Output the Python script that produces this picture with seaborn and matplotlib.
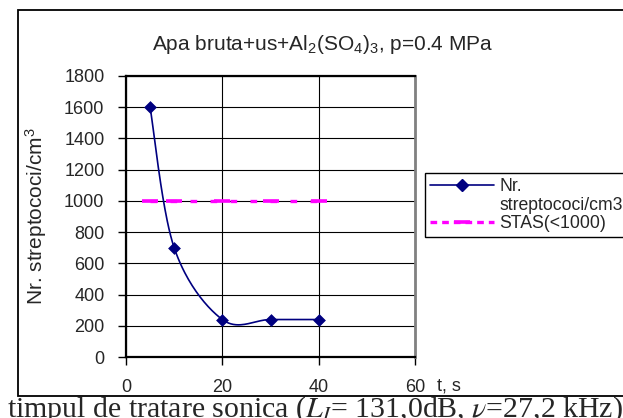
import numpy as np
import pandas as pd
import matplotlib
matplotlib.use("Agg")
import matplotlib.pyplot as plt
import seaborn as sns
from matplotlib.patches import Rectangle
from matplotlib.lines import Line2D

# ---- data ----
time_s = [5, 10, 20, 30, 40]
streptococi = [1600, 700, 240, 240, 240]
stas_limit = [1000, 1000, 1000, 1000, 1000]
x_ticks = [0, 20, 40, 60]
y_ticks = [0, 200, 400, 600, 800, 1000, 1200, 1400, 1600, 1800]
series_labels = ["Nr.", "streptococi/cm3", "STAS(<1000)"]
title_text = "Apa bruta+us+Al$_\\mathregular{2}$(SO$_\\mathregular{4}$)$_\\mathregular{3}$, p=0.4 MPa"
ylabel_text = "Nr. streptococi/cm$^\\mathregular{3}$"
xlabel_text = "t, s"
caption_text = "timpul de tratare sonica ($L_I$= 131,0dB, $\\nu$=27,2 kHz)."


def excel_smooth(x, y, n=40):
    """Excel-style smoothed line (Catmull-Rom Bezier) through the data points."""
    P = np.column_stack([np.asarray(x, float), np.asarray(y, float)])
    out = []
    for i in range(len(P) - 1):
        p0, p3 = P[i], P[i + 1]
        pm = P[i - 1] if i > 0 else P[i]
        pp = P[i + 2] if i + 2 < len(P) else P[i + 1]
        c1 = p0 + (p3 - pm) / 6.0
        c2 = p3 - (pp - p0) / 6.0
        t = np.linspace(0, 1, n)[:, None]
        seg = (1 - t) ** 3 * p0 + 3 * (1 - t) ** 2 * t * c1 + 3 * (1 - t) * t ** 2 * c2 + t ** 3 * p3
        out.append(seg if i == 0 else seg[1:])
    return np.vstack(out)


sns.set_style("white")
plt.rcParams["font.family"] = ["Liberation Sans", "DejaVu Sans"]
plt.rcParams["mathtext.fontset"] = "custom"
plt.rcParams["mathtext.rm"] = "Liberation Sans"
plt.rcParams["mathtext.it"] = "Liberation Sans:italic"

W, H = 623, 418
fig = plt.figure(figsize=(W / 100, H / 100), dpi=100)
ax = fig.add_axes([126 / W, 1 - 357 / H, (415 - 126) / W, (357 - 76) / H])

navy = "#000080"
magenta = "#FF00FF"

smooth = excel_smooth(time_s, streptococi)
df_smooth = pd.DataFrame({"t": smooth[:, 0], "n": smooth[:, 1]})
df_pts = pd.DataFrame({"t": time_s, "n": streptococi, "stas": stas_limit})

sns.lineplot(data=df_pts, x="t", y="stas", ax=ax, color=magenta, lw=2.4,
             linestyle=(0, (2, 4)), marker="_", markersize=11, mew=2.6,
             mec=magenta, zorder=3, estimator=None, sort=False)
sns.lineplot(data=df_smooth, x="t", y="n", ax=ax, color=navy, lw=1.2,
             estimator=None, sort=False, zorder=4)
sns.scatterplot(data=df_pts, x="t", y="n", ax=ax, marker="D", s=36,
                color=navy, edgecolor=navy, linewidth=0.5, zorder=5)

ax.set_xlim(0, 60)
ax.set_ylim(0, 1800)
ax.set_xticks(x_ticks)
ax.set_yticks(y_ticks)
ax.grid(True, color="black", lw=0.8)
ax.set_axisbelow(True)
for side in ["left", "bottom", "top"]:
    ax.spines[side].set_color("black")
    ax.spines[side].set_linewidth(1.6)
ax.spines["right"].set_color("#808080")
ax.spines["right"].set_linewidth(2.0)
ax.tick_params(axis="x", direction="out", length=6, width=1, color="black",
               labelsize=13, pad=10, bottom=True)
ax.tick_params(axis="y", direction="out", length=6, width=1, color="black",
               labelsize=13, pad=9.5, left=True)

ax.set_xlabel(xlabel_text, fontsize=13)
ax.xaxis.set_label_coords((437 - 126) / 289, (357 - 386) / 281)
ax.xaxis.label.set_ha("left")
ax.xaxis.label.set_va("center")

ax.set_ylabel(ylabel_text, fontsize=15)
ax.yaxis.set_label_coords((36 - 126) / 289, (357 - 216) / 281)
ax.yaxis.label.set_va("center")

fig.text(323 / W, 1 - 44 / H, title_text, ha="center", va="center", fontsize=15)

handles = [
    Line2D([], [], color=navy, lw=1.2, marker="D", markersize=6),
    Line2D([], [], color="none"),
    Line2D([], [], color=magenta, lw=2.4, linestyle=(0, (2, 1.5)), marker="_",
           markersize=11, mew=2.6),
]
leg = ax.legend(handles, series_labels, loc="upper left",
                bbox_to_anchor=(425 / W, 1 - 173 / H), bbox_transform=fig.transFigure,
                frameon=True, fancybox=False, framealpha=1, edgecolor="black",
                fontsize=12.7, borderpad=0.3, borderaxespad=0, labelspacing=0.08,
                handlelength=3.6, handletextpad=0.3, numpoints=1)
leg.get_frame().set_linewidth(1.0)

# outer chart frame (white box over the page text)
frame = Rectangle((18 / W, 1 - 396 / H), 1.0, (396 - 10) / H, transform=fig.transFigure,
                  facecolor="white", edgecolor="black", lw=1.3, zorder=-1)
fig.patches.append(frame)

fig.text(7 / W, 1 - 417 / H, caption_text, ha="left", va="baseline",
         fontsize=21.5, family=["Liberation Serif", "DejaVu Serif"],
         math_fontfamily="stix", zorder=-2)

fig.savefig("out.png", dpi=100)
